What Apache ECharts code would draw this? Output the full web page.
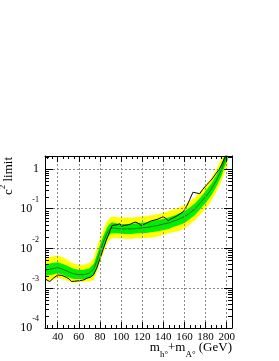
<!DOCTYPE html>
<html><head><meta charset="utf-8">
<script src="https://cdn.jsdelivr.net/npm/echarts@6/dist/echarts.min.js"></script>
<style>html,body{margin:0;padding:0;background:#fff}#c{width:279px;height:361px}</style>
</head><body><div id="c"></div>
<script>
// ---- tick values / labels ----
const xTicks = [40, 60, 80, 100, 120, 140, 160, 180, 200];
const xMinorTicks = [30,35,45,50,55,65,70,75,85,90,95,105,110,115,125,130,135,145,150,155,165,170,175,185,190,195];
const yTickValues = [1e-4, 1e-3, 1e-2, 1e-1, 1];
const yTickBase = ['10', '10', '10', '10', '1'];
const yTickExp = ['-4', '-3', '-2', '-1', ''];
const yMinorTicks = [2e-4,3e-4,4e-4,5e-4,6e-4,7e-4,8e-4,9e-4,
  2e-3,3e-3,4e-3,5e-3,6e-3,7e-3,8e-3,9e-3,
  2e-2,3e-2,4e-2,5e-2,6e-2,7e-2,8e-2,9e-2,
  0.2,0.3,0.4,0.5,0.6,0.7,0.8,0.9,2];

// ---- expected limit bands ----
const bandMass = [28,30,35,40,45,50,55,60,65,70,74,77,80,83,86,88,90,91,92,95,100,105,110,115,120,125,130,135,140,145,150,155,160,165,170,175,180,185,190,195,198,201];
const expMedian = [0.0028,0.0029,0.0031,0.0033,0.0030,0.0026,0.0023,0.0022,0.0022,0.0024,
  0.0030,0.0048,0.0085,0.014,0.022,0.028,0.032,0.033,0.033,0.032,
  0.031,0.031,0.031,0.032,0.033,0.034,0.036,0.038,0.041,0.044,
  0.049,0.055,0.063,0.078,0.10,0.14,0.20,0.30,0.50,0.95,1.6,2.4];
const band2Hi = [0.0057,0.0059,0.0063,0.0067,0.0060,0.0050,0.0042,0.0039,0.0039,0.0043,
  0.0058,0.0105,0.018,0.029,0.044,0.054,0.061,0.063,0.064,0.062,
  0.060,0.060,0.060,0.062,0.064,0.066,0.070,0.074,0.080,0.086,
  0.096,0.107,0.123,0.152,0.195,0.27,0.39,0.58,0.97,1.85,3.1,4.7];
const band1Hi = [0.0039,0.0041,0.0043,0.0045,0.0041,0.0036,0.0031,0.0029,0.0029,0.0032,
  0.0041,0.0068,0.012,0.020,0.031,0.038,0.043,0.045,0.045,0.043,
  0.041,0.041,0.042,0.043,0.045,0.046,0.049,0.052,0.056,0.060,
  0.067,0.076,0.087,0.108,0.138,0.19,0.28,0.41,0.69,1.3,2.2,3.3];
const band1Lo = [0.0020,0.0021,0.0022,0.0024,0.0022,0.0019,0.0017,0.0017,0.0017,0.0018,
  0.0021,0.0033,0.0060,0.0098,0.0155,0.020,0.023,0.024,0.024,0.024,
  0.0235,0.023,0.023,0.024,0.024,0.025,0.026,0.027,0.029,0.031,
  0.035,0.039,0.044,0.055,0.070,0.099,0.14,0.21,0.35,0.67,1.13,1.7];
const band2Lo = [0.00145,0.0015,0.0016,0.0018,0.0017,0.0015,0.0014,0.0014,0.00145,0.0015,
  0.0016,0.0025,0.0045,0.0073,0.0115,0.015,0.017,0.018,0.018,0.018,
  0.018,0.0175,0.0175,0.018,0.018,0.0185,0.019,0.020,0.022,0.024,
  0.026,0.028,0.032,0.040,0.051,0.072,0.10,0.15,0.26,0.49,0.82,1.2];

// ---- observed limit ----
const obsMass = [28,30,32.5,36,40,44,48,51,53,56,60,64,68,71,74,77,80,83,86,88,
  90,91.5,93,95,97,99,100.5,103,106,109,112,114,117,119,121,123,126,129,132,135,
  138,140,142,144.5,147,150,153,156,159,162,165,168,171,174.5,177,181,184,187,190,193,195,198,201];
const obsLimit = [0.00175,0.0016,0.00147,0.0018,0.00215,0.0021,0.0019,0.0017,0.00148,0.0015,
  0.00155,0.0016,0.0018,0.0019,0.0022,0.0032,0.0055,0.0095,0.016,0.022,
  0.030,0.038,0.040,0.039,0.040,0.042,0.036,0.038,0.039,0.041,
  0.045,0.046,0.042,0.038,0.040,0.042,0.046,0.050,0.052,0.055,
  0.060,0.063,0.058,0.050,0.055,0.060,0.066,0.075,0.085,0.115,
  0.17,0.26,0.25,0.24,0.30,0.40,0.48,0.60,0.78,1.0,1.25,1.9,2.6];

const X_MIN = 28, X_MAX = 205, Y_MIN = 1e-4, Y_MAX = 2.12;
const FONT = 'Liberation Serif';

function pairs(xs, ys) { return xs.map((x, i) => [x, ys[i]]); }

function bandSeries(lo, hi, color, z) {
  return {
    type: 'custom', coordinateSystem: 'cartesian2d', clip: true, silent: true, z: z,
    data: [[bandMass[0], lo[0]]],
    encode: { x: 0, y: 1 },
    renderItem: function (params, api) {
      const pts = [];
      for (let i = 0; i < bandMass.length; i++) pts.push(api.coord([bandMass[i], hi[i]]));
      for (let i = bandMass.length - 1; i >= 0; i--) pts.push(api.coord([bandMass[i], lo[i]]));
      return { type: 'polygon', shape: { points: pts }, style: { fill: color, stroke: null } };
    }
  };
}

const chart = echarts.init(document.getElementById('c'), null, { renderer: 'canvas' });

const axisLineStyle = { color: '#000', width: 1 };
const gridLineStyle = { color: '#8a8a8a', width: 1, type: [2, 2] };

const option = {
  animation: false,
  backgroundColor: '#fff',
  grid: { left: 45, top: 156, right: 47, bottom: 33, containLabel: false },
  xAxis: [{
    type: 'value', min: X_MIN, max: X_MAX, splitNumber: 9, position: 'bottom', z: 10,
    axisLine: { show: true, onZero: false, lineStyle: axisLineStyle },
    axisTick: { show: true, inside: true, length: 6, lineStyle: axisLineStyle },
    axisLabel: {
      show: true, margin: 4, color: '#000', fontFamily: FONT, fontSize: 11,
      showMinLabel: false, showMaxLabel: false,
      formatter: v => (xTicks.indexOf(Math.round(v)) >= 0 && Math.abs(v - Math.round(v)) < 1e-6) ? String(Math.round(v)) : ''
    },
    splitLine: { show: true, lineStyle: gridLineStyle }
  }, {
    type: 'value', min: X_MIN, max: X_MAX, splitNumber: 9, position: 'top', z: 10,
    axisLine: { show: true, onZero: false, lineStyle: axisLineStyle },
    axisTick: { show: true, inside: true, length: 6, lineStyle: axisLineStyle },
    axisLabel: { show: false }, splitLine: { show: false }
  }],
  yAxis: [{
    type: 'log', logBase: 10, min: Y_MIN, max: Y_MAX, position: 'left', z: 10,
    axisLine: { show: true, onZero: false, lineStyle: axisLineStyle },
    axisTick: { show: true, inside: true, length: 8, lineStyle: axisLineStyle },
    axisLabel: {
      show: true, margin: 6, showMaxLabel: false,
      formatter: function (v) {
        for (let i = 0; i < yTickValues.length; i++) {
          if (Math.abs(Math.log10(v) - Math.log10(yTickValues[i])) < 1e-6) {
            return yTickExp[i] === '' ? '{b|' + yTickBase[i] + '}' : '{b|' + yTickBase[i] + '}{s|' + yTickExp[i] + '}';
          }
        }
        return '';
      },
      rich: {
        b: { fontFamily: FONT, fontSize: 12, color: '#000', lineHeight: 26, verticalAlign: 'middle' },
        s: { fontFamily: FONT, fontSize: 8, color: '#000', lineHeight: 26, verticalAlign: 'top' }
      }
    },
    splitLine: { show: true, lineStyle: gridLineStyle }
  }, {
    type: 'log', logBase: 10, min: Y_MIN, max: Y_MAX, position: 'right', z: 10,
    axisLine: { show: true, onZero: false, lineStyle: axisLineStyle },
    axisTick: { show: true, inside: true, length: 8, lineStyle: axisLineStyle },
    axisLabel: { show: false }, splitLine: { show: false }
  }],
  series: [
    bandSeries(band2Lo, band2Hi, '#ffff00', 2),
    bandSeries(band1Lo, band1Hi, '#00ee00', 3),
    {
      type: 'line', xAxisIndex: 0, yAxisIndex: 0, z: 4, clip: true, silent: true,
      data: pairs(bandMass, expMedian), symbol: 'none',
      lineStyle: { color: '#1d5a1d', width: 0.8 }
    },
    {
      type: 'line', xAxisIndex: 0, yAxisIndex: 0, z: 5, clip: true, silent: true,
      data: pairs(obsMass, obsLimit), symbol: 'none',
      lineStyle: { color: '#000', width: 1 }
    },
    {
      type: 'custom', coordinateSystem: 'cartesian2d', silent: true, z: 20,
      data: [[100, 0.01]], encode: { x: 0, y: 1 },
      renderItem: function (params, api) {
        const ch = [];
        const st = { stroke: '#000', lineWidth: 1 };
        xMinorTicks.forEach(v => {
          const b = api.coord([v, Y_MIN]), t = api.coord([v, Y_MAX]);
          const x = Math.round(b[0]) + 0.5;
          ch.push({ type: 'line', shape: { x1: x, y1: b[1], x2: x, y2: b[1] - 3 }, style: st });
          ch.push({ type: 'line', shape: { x1: x, y1: t[1], x2: x, y2: t[1] + 3 }, style: st });
        });
        yMinorTicks.forEach(v => {
          const l = api.coord([X_MIN, v]), r = api.coord([X_MAX, v]);
          const y = Math.round(l[1]) + 0.5;
          ch.push({ type: 'line', shape: { x1: l[0], y1: y, x2: l[0] + 4, y2: y }, style: st });
          ch.push({ type: 'line', shape: { x1: r[0], y1: y, x2: r[0] - 4, y2: y }, style: st });
        });
        return { type: 'group', children: ch };
      }
    }
  ],
  graphic: [
    {
      type: 'text', x: 232, y: 348, silent: true,
      style: {
        text: '{m|m}{s|h°}{m|+m}{s|A°}{m| (GeV)}',
        align: 'right', verticalAlign: 'middle',
        rich: {
          m: { fontFamily: FONT, fontSize: 13, color: '#000', lineHeight: 22, verticalAlign: 'middle' },
          s: { fontFamily: FONT, fontSize: 9, color: '#000', lineHeight: 22, verticalAlign: 'bottom' }
        }
      }
    },
    {
      type: 'text', x: 20, y: 157, rotation: Math.PI / 2, silent: true,
      style: {
        text: '{m|c}{s|2}{m| limit}',
        align: 'right', verticalAlign: 'bottom',
        rich: {
          m: { fontFamily: FONT, fontSize: 13, color: '#000', lineHeight: 22, verticalAlign: 'middle' },
          s: { fontFamily: FONT, fontSize: 9, color: '#000', lineHeight: 22, verticalAlign: 'top' }
        }
      }
    }
  ]
};
chart.setOption(option);
</script>
</body></html>
